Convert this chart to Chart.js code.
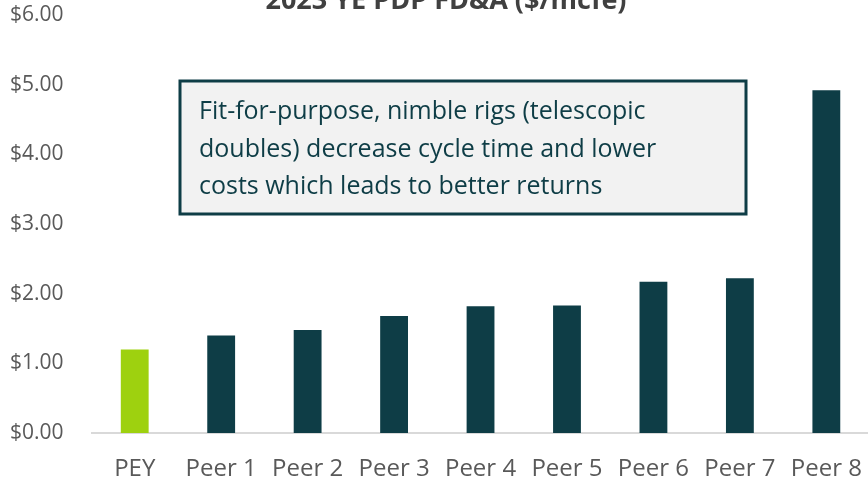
<!DOCTYPE html>
<html>
<head>
<meta charset="utf-8">
<script src="https://cdn.jsdelivr.net/npm/chart.js@4.4.1/dist/chart.umd.min.js"></script>
<style>
  html, body { margin: 0; padding: 0; background: #ffffff; overflow: hidden; }
  #wrap { position: relative; width: 876px; height: 481px; }
</style>
</head>
<body>
<div id="wrap"><canvas id="chartFda"></canvas></div>
<script>
'use strict';

// ─── DATA ────────────────────────────────────────────────────

const CATEGORIES = ['PEY', 'Peer 1', 'Peer 2', 'Peer 3', 'Peer 4', 'Peer 5', 'Peer 6', 'Peer 7', 'Peer 8'];
const FDA_VALUES = [1.20, 1.40, 1.48, 1.68, 1.82, 1.83, 2.17, 2.22, 4.92];
const Y_TICKS = [0, 1, 2, 3, 4, 5, 6];

const TITLE = '2023 YE PDP FD&A ($/mcfe)';
const NOTE_LINES = [
  'Fit-for-purpose, nimble rigs (telescopic',
  'doubles) decrease cycle time and lower',
  'costs which leads to better returns'
];

// ─── PALETTE ─────────────────────────────────────────────────

const COLORS = {
  teal:  '#0e3d46',
  lime:  '#9ed10f',
  text:  '#595959',
  title: '#404040',
  axis:  '#d9d9d9',
  box:   '#f2f2f2'
};

const FONT = "'Open Sans', 'Liberation Sans', sans-serif";

// ─── OVERLAYS (title + note box) ─────────────────────────────

const overlayPlugin = {
  id: 'overlay',
  afterDraw(chart) {
    const c = chart.ctx;
    c.save();

    // title, partly cut off at the top like the source slide
    c.fillStyle = COLORS.title;
    c.font = `bold 27px ${FONT}`;
    c.textAlign = 'center';
    c.textBaseline = 'alphabetic';
    c.fillText(TITLE, 446, 9);

    // note box
    const bx = 180, by = 81, bw = 566, bh = 133;
    c.fillStyle = COLORS.box;
    c.fillRect(bx, by, bw, bh);
    c.strokeStyle = COLORS.teal;
    c.lineWidth = 3;
    c.strokeRect(bx, by, bw, bh);

    c.fillStyle = COLORS.teal;
    c.font = `25px ${FONT}`;
    c.textAlign = 'left';
    c.textBaseline = 'middle';
    NOTE_LINES.forEach((line, i) => c.fillText(line, 199, 112 + i * 37.5));

    c.restore();
  }
};

// ─── CHART ───────────────────────────────────────────────────

new Chart(document.getElementById('chartFda'), {
  type: 'bar',
  data: {
    labels: CATEGORIES,
    datasets: [{
      data: FDA_VALUES,
      backgroundColor: CATEGORIES.map(c => c === 'PEY' ? COLORS.lime : COLORS.teal),
      borderWidth: 0,
      barPercentage: 0.644,
      categoryPercentage: 0.5
    }]
  },
  options: {
    responsive: true,
    maintainAspectRatio: false,
    animation: false,
    layout: { autoPadding: false, padding: { top: 15, left: 0, right: 1.5, bottom: 0 } },
    plugins: {
      legend: { display: false },
      title: { display: false },
      tooltip: { enabled: false }
    },
    scales: {
      x: {
        grid: { display: false },
        border: { display: true, color: COLORS.axis, width: 2 },
        afterFit: axis => { axis.height = 48; },
        ticks: {
          color: COLORS.text,
          font: { family: FONT, size: 24 },
          padding: 14,
          maxRotation: 0,
          autoSkip: false
        }
      },
      y: {
        min: 0,
        max: 6,
        afterBuildTicks: axis => { axis.ticks = Y_TICKS.map(v => ({ value: v })); },
        afterFit: axis => {
          axis.width = 91.5;
          axis.paddingTop = 0;
          axis.paddingBottom = 0;
        },
        grid: { display: false, drawTicks: false },
        border: { display: false },
        ticks: {
          color: COLORS.text,
          font: { family: FONT, size: 21 },
          padding: 28,
          callback: v => '$' + Number(v).toFixed(2)
        }
      }
    }
  },
  plugins: [overlayPlugin]
});
</script>
</body>
</html>
